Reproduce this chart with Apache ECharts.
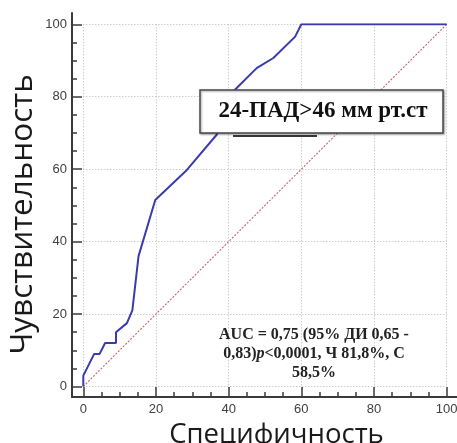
<!DOCTYPE html>
<html>
<head>
<meta charset="utf-8">
<script src="https://cdn.jsdelivr.net/npm/echarts@6/dist/echarts.min.js"></script>
<style>
  html, body { margin: 0; padding: 0; background: #fff; }
  #chart { width: 457px; height: 443px; }
</style>
</head>
<body>
<div id="chart"></div>
<script>
// ROC curve: x = specificity-axis value, y = sensitivity (%)
const rocX = [0, 0, 3, 4.5, 6, 9, 9, 12, 13.5, 15.2, 19.8, 28.5, 36.7, 41.8, 47.7, 52.3, 58.3, 60, 100];
const rocY = [0, 3, 9, 9, 12, 12, 15, 17.5, 21, 36, 51.5, 59.8, 69.5, 82, 87.9, 90.7, 96.6, 100, 100];
// chance diagonal
const diagX = [0, 100];
const diagY = [0, 100];
const axisTicks = [0, 20, 40, 60, 80, 100];

const xTitle = 'Специфичность';
const yTitle = 'Чувствительность';
const markerLabel = '24-ПАД>46 мм рт.ст';

const chart = echarts.init(document.getElementById('chart'), null, { renderer: 'canvas' });

const axisColor = '#3a3a3a';
const tickAxisCommon = {
  type: 'value',
  min: axisTicks[0],
  max: axisTicks[axisTicks.length - 1],
  interval: axisTicks[1] - axisTicks[0],
  axisLine: { show: true, onZero: false, lineStyle: { color: axisColor, width: 2 } },
  axisTick: { show: true, inside: true, length: 10, lineStyle: { color: axisColor, width: 1.5 } },
  minorTick: { show: true, splitNumber: 4, length: 5, lineStyle: { color: axisColor, width: 1.5 } },
  splitLine: { show: true, lineStyle: { color: '#b8b8b8', type: [1, 2], width: 1 } },
  axisLabel: { color: '#404040', fontSize: 13, fontFamily: 'Liberation Sans' },
  nameLocation: 'middle',
  nameTextStyle: { fontFamily: 'Open Sans', color: '#1a1a1a' }
};

// longer frame lines that meet in the lower-left corner
const frameAxis = {
  type: 'value', min: 0, max: 1,
  axisLine: { show: true, onZero: false, lineStyle: { color: axisColor, width: 2 } },
  axisTick: { show: false }, axisLabel: { show: false }, splitLine: { show: false }
};

chart.setOption({
  animation: false,
  backgroundColor: '#ffffff',
  grid: [
    { left: 83.3, right: 10.3, top: 24.3, bottom: 56.5, containLabel: false, outerBoundsMode: 'none' },
    { left: 72, right: 0, top: 13, bottom: 46, containLabel: false, outerBoundsMode: 'none' }
  ],
  xAxis: [
    Object.assign({}, tickAxisCommon, {
      gridIndex: 0, offset: 10.5,
      axisLabel: Object.assign({}, tickAxisCommon.axisLabel, { margin: 6 }),
      name: xTitle, nameGap: 17,
      nameTextStyle: Object.assign({}, tickAxisCommon.nameTextStyle, { fontSize: 27.5, padding: [0, 0, 0, 23] })
    }),
    Object.assign({}, frameAxis, { gridIndex: 1 })
  ],
  yAxis: [
    Object.assign({}, tickAxisCommon, {
      gridIndex: 0, offset: 11.3,
      axisLabel: Object.assign({}, tickAxisCommon.axisLabel, { margin: 5 }),
      name: yTitle, nameGap: 33, nameMoveOverlap: false,
      nameTextStyle: Object.assign({}, tickAxisCommon.nameTextStyle, { fontSize: 31.5, padding: [0, 18, 0, 0] })
    }),
    Object.assign({}, frameAxis, { gridIndex: 1 })
  ],
  series: [
    {
      type: 'line', xAxisIndex: 0, yAxisIndex: 0,
      data: diagX.map((v, i) => [v, diagY[i]]),
      symbol: 'none', silent: true,
      lineStyle: { color: '#c86464', width: 1.1, type: [2, 1.5] },
      z: 2
    },
    {
      type: 'line', xAxisIndex: 0, yAxisIndex: 0,
      data: rocX.map((v, i) => [v, rocY[i]]),
      symbol: 'none', silent: true,
      lineStyle: { color: '#3b3bb0', width: 2 },
      z: 3
    }
  ],
  graphic: [
    {
      type: 'line', z: 50,
      shape: { x1: 233, y1: 136, x2: 317, y2: 136 },
      style: { stroke: '#3a3a3a', lineWidth: 2 }
    },
    {
      type: 'rect', z: 51,
      shape: { x: 200, y: 90, width: 243, height: 43 },
      style: {
        fill: '#ffffff', stroke: '#4a4a4a', lineWidth: 1.5,
        shadowColor: 'rgba(0,0,0,0.35)', shadowBlur: 2, shadowOffsetX: 1, shadowOffsetY: 1
      }
    },
    {
      type: 'text', z: 52,
      x: 323, y: 111,
      style: {
        text: markerLabel,
        font: 'bold 23px "Liberation Serif"',
        fill: '#111111', align: 'center', verticalAlign: 'middle'
      }
    },
    {
      type: 'text', z: 52,
      x: 314, y: 354,
      style: {
        text: 'AUC = 0,75 (95% ДИ 0,65 -\n0,83){i|p}<0,0001, Ч 81,8%, С\n58,5%',
        font: 'bold 16px "Liberation Serif"',
        lineHeight: 19,
        fill: '#222222', align: 'center', verticalAlign: 'middle',
        rich: {
          i: { font: 'italic bold 16px "Liberation Serif"', fill: '#222222', lineHeight: 19 }
        }
      }
    }
  ]
});
</script>
</body>
</html>
